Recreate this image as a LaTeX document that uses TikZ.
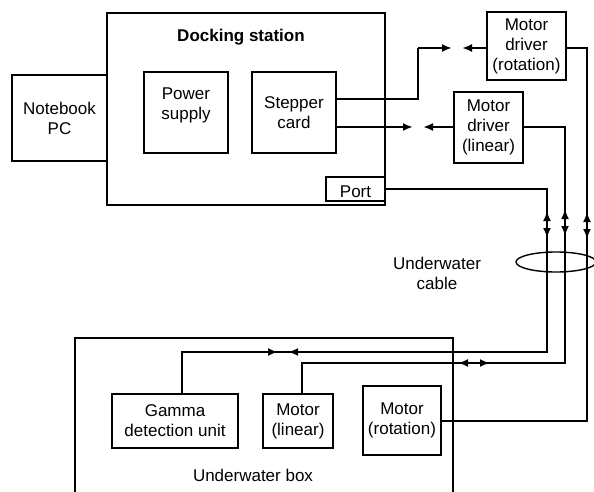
\documentclass[tikz,border=0pt]{standalone}
\usepackage{fontspec}
\setmainfont{Liberation Sans}
\usetikzlibrary{arrows.meta,calc}
\begin{document}
\begin{tikzpicture}[x=1pt,y=-1pt,
  every node/.style={font=\fontsize{17}{20}\selectfont},
  box/.style={draw,line width=1.4pt,inner sep=0pt,align=center},
  wire/.style={line width=1.4pt},
  plug/.style={line width=2.6pt,-{Latex[length=10pt,width=8pt]}},
  bidir/.style={line width=2.6pt,{Latex[length=10pt,width=8pt]}-{Latex[length=10pt,width=8pt]}},
  lbl/.style={align=center,inner sep=0pt}]
\useasboundingbox (0,0) rectangle (594,492);
\clip (0,0) rectangle (594,492);
% docking station side
\node[box,minimum width=278pt,minimum height=192pt] (ds) at (246,109) {};
\node[lbl,font=\fontsize{17}{20}\selectfont\bfseries] (dst) at (241,37) {Docking station};
\node[box,minimum width=95pt,minimum height=86pt] (pc) at (59.5,118) {Notebook\\PC};
\node[box,minimum width=84pt,minimum height=81pt] (ps) at (186,112.5) {};
\node[lbl] (pst) at (186,105) {Power\\supply};
\node[box,minimum width=84pt,minimum height=81pt] (sc) at (294,112.5) {Stepper\\card};
\node[box,minimum width=59pt,minimum height=24pt] (port) at (355.5,189) {};
\node[lbl] (portt) at (355.5,192) {Port};
\node[box,minimum width=79pt,minimum height=68pt] (mdr) at (526.5,46) {Motor\\driver\\(rotation)};
\node[box,minimum width=69pt,minimum height=71pt] (mdl) at (488.5,127.5) {Motor\\driver\\(linear)};
% underwater side
\node[box,minimum width=378pt,minimum height=200pt] (ub) at (264,438) {};
\node[lbl] (ubt) at (253,475) {Underwater box};
\node[box,minimum width=126pt,minimum height=54pt] (gam) at (175,421) {Gamma\\detection unit};
\node[box,minimum width=70pt,minimum height=54pt] (ml) at (298,421) {Motor\\(linear)};
\node[box,minimum width=78pt,minimum height=69pt] (mr) at (402,420.5) {Motor\\(rotation)};
\node[lbl] (cab) at (437,273) {Underwater\\cable};
% cable bundle
\draw[wire] (556,262) ellipse [x radius=40pt, y radius=10pt];
% stepper -> motor driver (rotation)
\draw[wire] (sc.east |- 0,99) -- (418,99) -- (418,48);
\draw[plug] (418,48) -- (452,48);
\draw[plug] (mdr.west |- 0,48) -- (462,48);
% stepper -> motor driver (linear)
\draw[wire] (sc.east |- 0,127) -- (396,127);
\draw[plug] (396,127) -- (413,127);
\draw[plug] (mdl.west |- 0,127) -- (423,127);
% motor driver (rotation) -> motor (rotation)
\draw[wire] (mdr.east |- 0,48) -- (587,48) -- (587,421) -- (mr.east |- 0,421);
\draw[bidir] (587,239) -- (587,212);
% motor driver (linear) -> motor (linear)
\draw[wire] (mdl.east |- 0,127) -- (565,127) -- (565,363) -- (302,363) -- (302,0 |- ml.north);
\draw[bidir] (565,236) -- (565,209);
\draw[bidir] (458,363) -- (490,363);
% port -> gamma detection unit
\draw[wire] (port.east) -- (547,189) -- (547,352) -- (182,352) -- (182,0 |- gam.north);
\draw[bidir] (547,238) -- (547,211);
\draw[plug] (248,352) -- (278,352);
\draw[plug] (307,352) -- (288,352);
\end{tikzpicture}
\end{document}
